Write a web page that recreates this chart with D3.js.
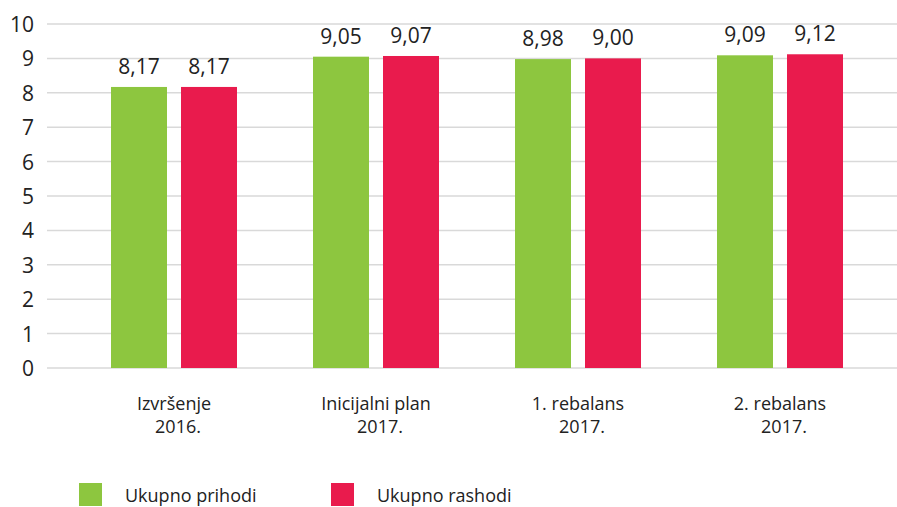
<!DOCTYPE html>
<html lang="hr">
<head>
<meta charset="UTF-8">
<script src="https://d3js.org/d3.v7.min.js"></script>
<title>Prihodi i rashodi</title>
<style>
  body { margin: 0; background: #fff; }
  text { font-family: "Open Sans", sans-serif; fill: #222; }
  .grid line { stroke: #d9d9d9; stroke-width: 1.5px; }
</style>
</head>
<body>
<svg width="897" height="507"></svg>
<script>
// data
var categories = [["Izvršenje", "2016."], ["Inicijalni plan", "2017."], ["1. rebalans", "2017."], ["2. rebalans", "2017."]];
var prihodi = [8.17, 9.05, 8.98, 9.09];
var rashodi = [8.17, 9.07, 9.00, 9.12];
var seriesNames = ["Ukupno prihodi", "Ukupno rashodi"];
var colors = ["#8dc63f", "#e91b4d"];
var yTicks = [0, 1, 2, 3, 4, 5, 6, 7, 8, 9, 10];

var svg = d3.select("svg");
var y = d3.scaleLinear().domain([0, 10]).range([368, 24]);
var x = d3.scaleBand().domain(d3.range(categories.length)).range([73, 881]);
var barW = 56, gap = 14;

// gridlines
svg.append("g").attr("class", "grid").selectAll("line")
  .data(yTicks).enter().append("line")
  .attr("x1", 47).attr("x2", 897)
  .attr("y1", d => y(d)).attr("y2", d => y(d));

// y labels
svg.append("g").selectAll("text")
  .data(yTicks).enter().append("text")
  .attr("x", 34).attr("y", d => y(d) + 8)
  .attr("text-anchor", "end")
  .style("font-size", "21px")
  .text(d => d);

var series = [prihodi, rashodi];
series.forEach(function(vals, s) {
  var offs = s === 0 ? -(barW + gap / 2) : gap / 2;
  var g = svg.append("g");
  g.selectAll("rect").data(vals).enter().append("rect")
    .attr("x", (d, i) => x(i) + x.bandwidth() / 2 + offs)
    .attr("y", d => y(d))
    .attr("width", barW)
    .attr("height", d => y(0) - y(d))
    .attr("fill", colors[s]);
  g.selectAll("text").data(vals).enter().append("text")
    .attr("x", (d, i) => x(i) + x.bandwidth() / 2 + offs + barW / 2)
    .attr("y", d => y(d) - 13)
    .attr("text-anchor", "middle")
    .style("font-size", "21px")
    .text(d => d3.format(".2f")(d).replace(".", ","));
});

// category labels
var cat = svg.append("g").selectAll("text")
  .data(categories).enter().append("text")
  .attr("text-anchor", "middle")
  .style("font-size", "18px");
cat.append("tspan")
  .attr("x", (d, i) => x(i) + x.bandwidth() / 2).attr("y", 410)
  .text(d => d[0]);
cat.append("tspan")
  .attr("x", (d, i) => x(i) + x.bandwidth() / 2 + 4).attr("y", 433)
  .text(d => d[1]);

// legend
var legX = [79, 331];
seriesNames.forEach(function(n, i) {
  svg.append("rect").attr("x", legX[i]).attr("y", 483)
    .attr("width", 23).attr("height", 23).attr("fill", colors[i]);
  svg.append("text").attr("x", legX[i] + 46).attr("y", 502)
    .style("font-size", "18px").text(n);
});
</script>
</body>
</html>
